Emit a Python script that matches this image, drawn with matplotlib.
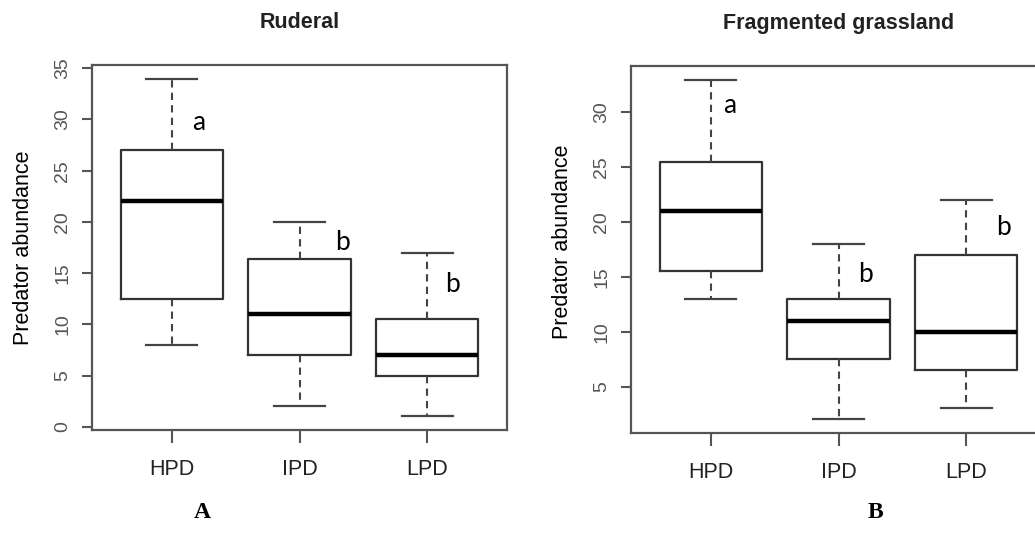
import matplotlib.pyplot as plt

# ── Data ──────────────────────────────────────────────────────
groups = ['HPD', 'IPD', 'LPD']

# Panel A: Ruderal
rud_whislo = [8, 2, 1]
rud_q1     = [12.5, 7, 5]
rud_med    = [22, 11, 7]
rud_q3     = [27, 16.4, 10.5]
rud_whishi = [34, 20, 17]
rud_letters = ['a', 'b', 'b']
rud_letter_y = [29.0, 17.3, 13.15]

# Panel B: Fragmented grassland
frag_whislo = [13, 2, 3]
frag_q1     = [15.5, 7.5, 6.5]
frag_med    = [21, 11, 10]
frag_q3     = [25.5, 13, 17]
frag_whishi = [33, 18, 22]
frag_letters = ['a', 'b', 'b']
frag_letter_y = [29.95, 14.5, 18.8]

GRAY = '#555555'


def draw_panel(ax, title, whislo, q1, med, q3, whishi, letters, letter_y,
               letter_dx, yticks, ylab_y):
    stats = []
    for i, g in enumerate(groups):
        stats.append(dict(label=g, whislo=whislo[i], q1=q1[i], med=med[i],
                          q3=q3[i], whishi=whishi[i], fliers=[]))
    ax.bxp(stats, positions=[1, 2, 3], widths=0.8, capwidths=0.4,
           showfliers=False,
           boxprops=dict(color='#333333', linewidth=1.6),
           medianprops=dict(color='black', linewidth=3.2),
           whiskerprops=dict(color='#444444', linewidth=1.5, linestyle=(0, (3.5, 2.5))),
           capprops=dict(color='#444444', linewidth=1.6))

    # R style limits: 4% padding around data range
    lo, hi = min(whislo), max(whishi)
    pad = 0.04 * (hi - lo)
    ax.set_ylim(lo - pad, hi + pad)
    ax.set_xlim(0.375, 3.625)
    ax.set_yticks(yticks)
    ax.set_yticklabels([str(t) for t in yticks], rotation=90, va='center')
    ax.tick_params(axis='y', length=7, width=1.5, colors=GRAY,
                   labelsize=14, pad=8)
    ax.tick_params(axis='x', length=9, width=1.5, colors=GRAY,
                   labelcolor='#222222', labelsize=15.5, pad=12)
    for s in ax.spines.values():
        s.set_color(GRAY)
        s.set_linewidth(1.6)

    for i, (lt, ly) in enumerate(zip(letters, letter_y)):
        ax.text(i + 1 + letter_dx[i], ly, lt, ha='center', va='baseline',
                fontsize=19, family='Lato')

    ax.set_title(title, fontsize=15.5, fontweight='bold', pad=27, color='#222222')
    ax.set_ylabel('Predator abundance', fontsize=15.5, va='center')
    ax.yaxis.set_label_coords(-0.165, ylab_y)


plt.rcParams['font.family'] = ['Liberation Sans', 'DejaVu Sans']

fig = plt.figure(figsize=(10.35, 5.59), dpi=100)
axA = fig.add_axes([92 / 1035, 1 - 430 / 559, 415 / 1035, 365 / 559])
axB = fig.add_axes([631 / 1035, 1 - 433 / 559, 415 / 1035, 367 / 559])

draw_panel(axA, 'Ruderal', rud_whislo, rud_q1, rud_med, rud_q3, rud_whishi,
           rud_letters, rud_letter_y, [0.21, 0.34, 0.2],
           [0, 5, 10, 15, 20, 25, 30, 35], 0.50)
draw_panel(axB, 'Fragmented grassland', frag_whislo, frag_q1, frag_med, frag_q3,
           frag_whishi, frag_letters, frag_letter_y, [0.15, 0.21, 0.29],
           [5, 10, 15, 20, 25, 30], 0.52)

fig.text(202 / 1035, 1 - 513 / 559, 'A', ha='center', va='center',
         family='Liberation Serif', fontweight='bold', fontsize=17)
fig.text(875 / 1035, 1 - 513 / 559, 'B', ha='center', va='center',
         family='Liberation Serif', fontweight='bold', fontsize=17)

fig.savefig('out.png', dpi=100)
